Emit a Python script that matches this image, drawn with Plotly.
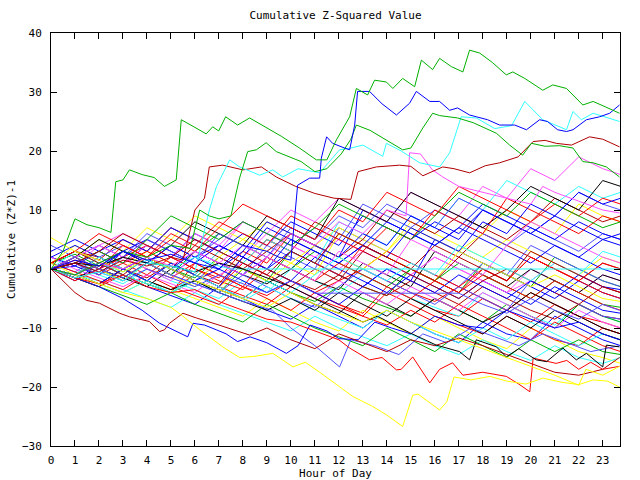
import plotly.graph_objects as go

# ---------------- data ----------------
hours = [0, 1, 2, 3, 4, 5, 6, 7, 8, 9, 10, 11, 12, 13, 14, 15, 16, 17, 18, 19, 20, 21, 22, 23, 23.75]

m01 = [0,-1.5,-3,-1,-2.5,-4,1,-1,-3,-4.5,-2,-4,-6,-7.5,-3,-5,-7,-8,-5,-7,-9,-6,-8,-10,-11]
m02 = [1,2.5,0.5,3,1.5,0,-1.5,2,0,-2,3,1,-1,-3,-4.5,0,-2,-4,1,-1,-3,2,0,-2,-3]
m03 = [0,-2,1,-1,-3,-4.5,-6,-3,-5,-7,-8.5,-6,-8,-10,-7,-9,-11,-12.5,-9,-11,-12,-8,-10,-12,-13]
m04 = [2,0.5,4,2,5,3,1,4,2,6,4,2,0,3,1,-1,2,0,-2,-4,0,-2,-4,-1,-2]
m05 = [0,1,-1,-2.5,0,-2,-3.5,-5,-2,-4,0,-2,-4,-1,-3,-5,-6.5,-8,-4,-6,-8,-9.5,-6,-8,-9]
m06 = [1,3,1.5,5,3,7,5,3,1,5,3,8,6,4,2,0,4,2,6,4,2,0,-2,1,0]
m07 = [0,-1,-2.5,-4,-2,-3.5,-5,-6.5,-8,-5,-7,-9,-10.5,-7,-9,-11,-8,-10,-12,-13.5,-10,-12,-14,-15,-16]
m08 = [0,2,0,-1.5,1,-1,3,1,-1,-2.5,0,-2,-3.5,1,-1,-3,3,1,-1,-3,0,-2,-4,-1,-2]
m09 = [1,-0.5,2,4,2,0,-2,1,-1,4,2,0,7,5,3,1,-1,-3,1,-1,4,2,0,-2,-3]
m10 = [0,-1.5,-3,0,-2,-3.5,-1,-3,-4.5,-6,-3,-5,-6.5,-8,-4,-6,-8,-9.5,-11,-8,-10,-12,-13,-10,-11]
m11 = [3,5,3,1,4,2,6,4,2,0,3,1,-1,-3,0,-2,5,3,1,-1,-3,-5,-2,-4,-5]
m12 = [0,1,3,1,-1,2,0,-2,-3.5,0,-2,-4,-2,0,-2,-4,-5.5,-3,-5,-7,-4,-6,-8,-9,-10]
m13 = [0,-1,1,-1,-2.5,-4,-2,-4,0,-2,-4,-5.5,-3,-5,-6.5,-8,-5,-7,-9,-6,-8,-10,-6,-8,-9]
m14 = [2,0.5,-1,3,1,-1,2,4,2,0,-2,2,0,-2,-4,-1,-3,-5,-2,-4,-6,-3,-5,-7,-7.5]
m15 = [0,2,4,6,4,2,5,3,8,6,4,2,5,3,1,-1,2,0,-2,-4,-2,1,-1,-3,-4]
m16 = [0,-1,-2,-3.5,-5,-6.5,-4,-6,-7.5,-9,-10.5,-8,-10,-11.5,-13,-11,-13,-14.5,-12,-14,-15.5,-13,-15,-16,-15]
m17 = [1,3,2,0,-1.5,1,-1,-2.5,2,0,-2,-3.5,-1,-3,-4.5,-2,-4,-6,-3,-5,-7,-8.5,-6,-8,-8.5]
m18 = [0,2,5,3,7,5,9,7,5,8,6,4,7,5,3,8,6,4,2,5,3,1,-1,2,1]
m19 = [0,-1.5,0,-1.5,-3,0,-2,-3.5,-5,-2,-4,-6,-7.5,-4,-6,-8,-5,-7,-9,-7,-4,-6,-8,-10,-11]
m20 = [4,2,0,3,1,-1,-2.5,-4,-1,-3,-5,-6.5,-3,0,-2,-4,-6,-3,-5,-7,-2,-4,-6,-8,-8.5]
m21 = [0,1.5,0,2,4,2,0,-1.5,3,1,6,4,2,0,3,1,-1,-3,0,-2,2,0,-2,-4,-5]
m22 = [0,-1,1,0,2,0,3,1,-1,2,0,4,2,10,8,6,4,7,5,3,1,4,2,0,-1]
m23 = [1,-0.5,-2,-3.5,-1,-3,-4.5,-6,-3,-5,-7,-4,-6,-8,-9.5,-7,-9,-6,-8,-10,-12,-9,-11,-13,-14]
m24 = [0,2,0,-2,1,-1,3,6,4,2,0,3,1,-1,-3,0,-2,1,-1,-3,-5,-2,-4,-6,-6.5]
m25 = [0,0.5,3,5,3,7,5,3,6,4,8,6,4,9,7,5,8,6,10,8,6,4,2,5,4]
m26 = [2,0,-1.5,-3,-1,-2.5,-4,-1,1,-1,-3,-5,-2,-4,-6,-3,-5,-7,-4,-6,-8,-10,-7,-9,-10]
m27 = [0,3,1,-1,-2.5,-4,-2,-4,-5.5,-3,-5,-7,-8.5,-10,-7,-9,-11,-12.5,-10,-12,-9,-11,-13,-11,-12]
m28 = [0,-1,2,0,-2,1,-1,3,1,-1,-3,0,-2,3,1,-1,-3,-5,-2,0,-2,-4,-6,-3,-4]
m29 = [1,4,2,0,3,1,-1,-3,0,-2,1,-1,6,4,2,0,-2,3,1,-1,-3,-1,-3,-5,-5.5]
m30 = [0,-1,-2.5,0,-2,-3.5,-2,-4,-5.5,-7,-5,-7,-4,-6,-8,-5,-7,-9,-11,-8,-10,-7,-9,-11,-12]
m31 = [0,2,4,2,6,4,2,5,8,6,4,7,5,11,9,7,10,8,6,4,7,5,3,6,5]
m32 = [0,-2,0,2,0,-1.5,1,-1,-3,2,0,-2,1,-1,-3,-5,-2,-4,-1,-3,-5,-2,-4,-6,-7]
m33 = [2,4,2,0,2,0,-2,0,-2,-4,-2,-4,-6,-3,0,-2,-4,-1,-3,-5,-2,-4,-1,-3,-3.5]
m34 = [0,1,-1,1,3,1,-1,-3,1,5,3,1,-1,4,2,0,-2,-4,0,-2,2,0,-2,1,0]
m35 = [0,-1.5,-3,-4.5,-6,-4,-6,-7.5,-9,-6,-8,-10,-11.5,-13,-10,-12,-14,-11,-13,-15,-12,-14,-12,-14,-14.5]
m36 = [0,2,0,3,5,3,1,4,2,7,5,3,1,4,8,6,4,7,11,9,7,5,8,6,5]
m37 = [0,1,3,1,4,2,6,4,8,6,10,8,12,10,8,13,11,9,14,12,17,15,19,17,16]
m38 = [0,-1,2,0,-2,1,-1,3,1,5,3,1,8,6,4,9,7,12,10,15,13,11,14,12,13]
m39 = [1,3,1,-1,2,0,4,2,0,3,6,4,2,5,10,8,6,9,7,5,8,12,10,8,9]
m40 = [0,2,0,-2,1,-1,-3,2,5,3,1,4,2,0,3,7,5,3,6,10,8,6,11,9,8]
m41 = [0,2,5,3,1,4,8,6,4,9,7,5,12,10,8,13,11,9,7,10,14,12,10,15,14]
m42 = [0,1,-1,2,5,3,1,6,4,2,7,5,9,7,11,9,7,12,10,8,6,9,13,11,10]
m43 = [1,3,6,4,2,5,3,7,11,9,7,5,10,8,13,11,9,14,12,10,8,11,9,12,11]
m44 = [0,-1,1,3,1,4,2,0,3,8,6,4,2,6,4,9,7,5,10,8,6,9,7,5,6]
m45 = [0,2,0,4,2,6,4,8,6,4,9,7,5,3,7,5,10,8,6,12,10,8,6,9,8]
m46 = [0,1,3,1,5,9,7,5,8,6,4,7,11,9,7,5,9,13,11,9,13,11,9,7,8]
m47 = [0,-1,-2.5,0,-2,1,-1,-3,2,0,5,3,1,4,2,7,5,3,8,6,11,9,13,11,12]
m48 = [0,2,4,2,0,-2,3,1,-1,2,0,-2,3,1,-1,5,3,1,-1,4,8,6,4,2,1]
m49 = [0,-1,-2.5,-4,-2,-4,-1,-3,-5,-2,-4,-1,2,0,-2,1,-1,4,2,0,-2,1,-1,3,2]
m50 = [0,1,3,6,4,2,5,3,1,-1,3,1,6,4,2,0,-2,2,0,-2,3,1,-1,-3,-4]

# prominent, individually traced series (hour, value)
g1_x = [0,0.5,1.0,1.5,2.0,2.5,2.7,3.0,3.27,3.8,4.3,4.73,5.22,5.43,6.0,6.47,6.74,6.99,7.28,7.78,8.28,8.9,9.6,10.36,11.06,11.5,11.9,12.45,12.73,13.2,13.49,13.98,14.25,14.66,15.16,15.44,15.91,16.2,16.69,17.17,17.45,17.87,18.4,18.98,19.25,19.75,20.5,20.92,21.49,22.17,22.6,23.1,23.7]
g1_y = [0,3,8.5,7.5,7,6.2,14.8,15.1,16.8,16,15.5,14,15.1,25.3,24,22.9,24.1,23.4,25.8,24.4,25.6,24.1,22.5,20.5,18.5,18.5,21.9,25.8,30.6,29.5,32,31.7,30.6,32.3,30.9,35.4,33.8,35.7,34.3,33.4,37.1,36.6,35,32.9,33.4,32.3,30.3,31.2,30.6,27.8,28.4,27.5,26.4]

b1_x = [0,1,2,3,4,5,6,7,8,9,9.5,10.0,10.28,10.78,11.2,11.27,11.49,11.74,12.24,12.45,12.66,12.78,13.28,13.8,14.4,14.95,15.23,15.79,16.2,16.62,16.95,17.45,17.73,18.2,18.7,19.33,19.82,20.37,20.7,21.12,21.49,21.76,22.32,22.87,23.29,23.7]
b1_y = [0,1.5,0.5,3,1.5,2.5,1,0,4,3,2,1.5,14.2,15.4,15.4,18.8,22.4,21.3,20.5,20.2,24.4,30.1,30.1,28,26.1,28.1,30.1,28.4,28.4,26.9,27.3,26.1,25.8,25.3,24.4,24.4,23.6,25.3,25,23.6,23.3,23.6,25.3,25.8,26.4,27.8]

g2_x = [0,1,2,3,4,5,5.8,6.2,6.6,7.0,7.5,7.86,8.2,8.56,8.97,9.39,10.43,11.0,11.5,12.1,12.5,12.73,13.3,13.9,14.66,15.0,15.5,15.91,16.2,16.95,17.6,18.57,19.12,19.66,20.03,20.6,21.2,21.76,22.17,22.6,23.15,23.7]
g2_y = [0,-1,1,3,2,4,3.5,10,9,8.5,9,15.4,19.9,20.2,21.4,19.9,18.2,16.5,17,19.5,22,24.4,23.5,22,20.2,20.5,23.9,26.4,26,25.6,24.8,23,21,19.3,21.3,20.8,20.9,20.5,18.2,18,17.3,15.6]

c1_x = [0,1,2,3,4,5,6,6.6,6.9,7.45,7.86,8.7,9.25,9.66,10.3,11.2,12.03,12.5,13.0,13.83,13.98,14.6,15.37,16.2,16.62,17.1,17.73,18.5,19.2,19.75,20.5,21.49,21.76,22.11,22.6,23.1,23.7]
c1_y = [0,-1.5,-0.5,-2,1,0.5,-0.5,10,14,18.5,17.3,15.9,16.8,15.6,17,16.3,20.2,20.5,21,19.1,21.3,20,18,17.3,19.7,25.8,25.6,23.8,24.3,28.4,25.3,23.6,26.7,25.3,26.4,25.8,25]

dr1_x = [0,1,2,3,4,5,5.5,6.0,6.4,6.6,7.16,8.0,8.77,9.39,10.2,11.0,11.8,12.5,12.8,13.56,14.53,15.0,15.5,16.33,16.8,17.45,18.1,18.7,19.47,20.1,20.6,21.06,21.7,22.45,23.0,23.7]
dr1_y = [0,1,-0.5,1.5,0.5,2,1.5,10,12,17.3,17.6,16.8,17.3,15.6,14,12.8,12,11.8,16.5,17.3,17.6,17.4,15.8,17.3,17,16.3,17.5,18,19,21.6,21.8,21.3,21,22.4,22,20.7]

m1_x = [0,1,2,3,4,5,6,7,8,9,10,11,12,13,14,14.8,14.95,15.4,15.9,16.33,17,18,19,20,20.5,21,22,23,23.7]
m1_y = [0,-1,1,0,2,0.5,3,1,4,2,6,4,8,6,10,9,19.7,19.5,16.8,15.6,14,13,12,11,14,13,11.5,10,9.5]

y1_x = [0,0.5,1,2,3,4,5,5.5,6.2,7.16,7.86,8.5,9.25,10.09,10.6,11.2,12.03,12.58,13.41,13.98,14.66,15.08,15.3,16.2,16.5,16.8,17.5,18.3,19.0,19.8,20.5,21.3,22.0,22.6,23.2,23.7]
y1_y = [1,0,-1,-2.5,-4,-5,-6.5,-8,-10.3,-13.2,-15,-14.8,-14.3,-16.6,-15.8,-17.5,-20,-21.6,-23.3,-24.7,-26.7,-21.4,-21.2,-23.9,-22.5,-18.3,-18.8,-18.2,-19,-19.5,-18.5,-19.2,-19.6,-18.8,-19,-20]

y2_x = [0,1,2,3,4,5,6,7,8,9,10,11,12,13,14,15,16,17,18,19,20,21,22,22.3,23,23.7]
y2_y = [5.3,3,1.5,-0.5,2,0,-2,-3.5,-5,-6.5,-4,-6,-7.5,-9,-7,-9,-10.5,-12,-13.5,-15,-16.5,-18,-19.7,-17,-18,-16.5]

r1_x = [0,1,2,3,4,5,6,7,8,9,10,11,12,12.45,13.28,13.8,14.4,14.6,15.08,15.79,16.2,16.74,17.17,18.0,18.98,19.5,19.96,20.1,21.06,21.5,22.0,22.5,23.0,23.7]
r1_y = [0,-1.5,-2.5,-1,-3,-4,-3.5,-5.5,-7,-8.5,-9,-10.5,-12,-13.4,-15.4,-15,-17.1,-17,-14.9,-19.3,-17,-15.9,-18,-17.5,-18.2,-19.5,-20.8,-15.1,-16,-15.5,-17,-15.8,-17,-16.5]

dr3_x = [0,0.5,1.0,1.47,2.02,2.86,3.27,4.1,4.53,4.73,4.94,5.5,6.06,7.0,8.28,9.0,10,11,12,13,14,15,16,17,18,19,20,21,22,23,23.7]
dr3_y = [0,-2,-4,-5.3,-5.8,-7.5,-8.1,-8.9,-10.6,-10.3,-9.2,-7.5,-8.3,-9.5,-11.2,-10,-12,-13.5,-11,-12.5,-14,-12,-13,-11.7,-13,-14.5,-16,-17.5,-18,-17,-15]

k1_x = [0,1,2,3,4,5,6,7,8,9,10,11,12,13,13.6,14.53,14.95,16.06,17.03,17.45,17.73,18.57,18.98,19.5,20.23,20.66,21.34,21.9,22.32,23.0,23.15,23.7]
k1_y = [0,1,0.5,2,1,0.5,-0.5,1,0,-1.5,-3,-5,-7,-9,-8,-10,-10.8,-12.9,-14,-15.4,-12,-13.2,-14.9,-13.5,-15.4,-15.7,-13.4,-15.4,-14.3,-16.6,-12.9,-13.2]

bl1_x = [0,1,2,3,3.8,4.53,5.22,5.7,5.92,6.4,6.89,7.3,7.78,8.3,9.0,9.81,10.3,10.8,11.5,12.0,12.8,13.5,14.2,15,16,17,18,19,20,21,22,23,23.7]
bl1_y = [0,-1.5,-3,-5,-7,-9.2,-10.6,-11.5,-9.2,-9.5,-10.3,-11,-12.3,-11.5,-12.5,-14.3,-13,-9.5,-10.5,-11.8,-12,-9,-10,-11,-8,-9.5,-10,-7,-8.5,-10,-9,-11,-12]

lb1_x = [0,1,2,3,4,5,6,7,8,9.24,10,11,12.03,12.5,13.5,14.5,15.5,16.5,17.5,18.5,19.5,20.5,21.5,22.5,23.7]
lb1_y = [0,2,0,-1.5,1,-1,-2.5,-4,-5.5,-7,-10,-13,-16.6,-12,-13,-14.5,-11,-12.5,-10,-11.5,-13,-11,-12.5,-14,-13]

c0_x = [0,1,2,3,4,5,6,7,7.5,23.7]
c0_y = [0,-1,1,-0.5,1.5,0,2,0.5,0,0]

bh_x = [0,1,2,3,4,5,6,7,8,9,10,11,17,18,19,20,21,22,23,23.7]
bh_y = [0,1,-0.5,-2,0,-1.5,-3,-1,-2.5,-4,-2,-4.1,-4.1,-6,-7.5,-5,-7,-8.5,-6,-7]

palette = ["#ff0000", "#00b000", "#0000ff", "#ff50ff", "#30ffff",
           "#b00000", "#ffff00", "#000000", "#5050ff", "#ff0000", "#0000ff"]

mass = [m01, m02, m03, m04, m05, m06, m07, m08, m09, m10, m11, m12, m13, m14,
        m15, m16, m17, m18, m19, m20, m21, m22, m23, m24, m25, m26, m27, m28,
        m29, m30, m31, m32, m33, m34, m35, m36, m37, m38, m39, m40, m41, m42,
        m43, m44, m45, m46, m47, m48, m49, m50]

fig = go.Figure()
for i, ys in enumerate(mass):
    fig.add_trace(go.Scatter(x=hours, y=ys, mode="lines",
                             line=dict(color=palette[i % len(palette)], width=1)))

traced = [
    (c0_x, c0_y, "#30ffff"), (bh_x, bh_y, "#5050ff"),
    (lb1_x, lb1_y, "#5050ff"), (bl1_x, bl1_y, "#0000ff"),
    (dr3_x, dr3_y, "#b00000"), (r1_x, r1_y, "#ff0000"),
    (k1_x, k1_y, "#000000"), (y2_x, y2_y, "#ffff00"),
    (y1_x, y1_y, "#ffff00"), (m1_x, m1_y, "#ff50ff"),
    (dr1_x, dr1_y, "#b00000"), (c1_x, c1_y, "#30ffff"),
    (g2_x, g2_y, "#00b000"), (b1_x, b1_y, "#0000ff"),
    (g1_x, g1_y, "#00b000"),
]
for xs, ys, col in traced:
    fig.add_trace(go.Scatter(x=xs, y=ys, mode="lines", line=dict(color=col, width=1)))

font = dict(family="DejaVu Sans Mono, Liberation Mono, monospace", size=11, color="black")

fig.update_layout(
    width=640, height=480,
    margin=dict(l=51, r=20, t=33, b=34, autoexpand=False),
    paper_bgcolor="white", plot_bgcolor="white",
    showlegend=False, font=font,
    title=dict(text="Cumulative Z-Squared Value", x=0.5, xref="paper",
               y=1 - 15 / 480, yref="container", yanchor="middle", xanchor="center",
               font=font),
)
fig.update_xaxes(range=[0, 23.72], tickmode="array", tickvals=list(range(24)),
                 ticktext=[str(h) for h in range(24)],
                 ticks="inside", ticklen=6, tickcolor="black", mirror="ticks",
                 showline=True, linecolor="black", linewidth=1, showgrid=False,
                 zeroline=False, tickfont=font, automargin=False,
                 ticklabelstandoff=4,
                 title=dict(text="Hour of Day", font=font, standoff=2))
fig.update_yaxes(range=[-30, 40], dtick=10, tick0=0,
                 ticks="inside", ticklen=6, tickcolor="black", mirror="ticks",
                 showline=True, linecolor="black", linewidth=1, showgrid=False,
                 zeroline=False, tickfont=font, automargin=False,
                 ticklabelstandoff=6,
                 title=dict(text="Cumulative (Z*Z)-1", font=font, standoff=4))

fig.write_html("out.html")
